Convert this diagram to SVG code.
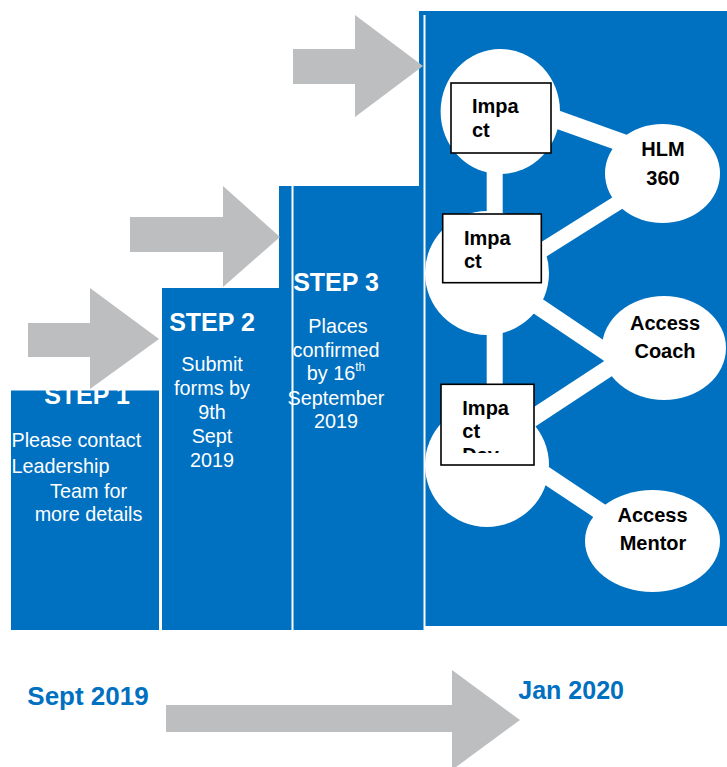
<svg xmlns="http://www.w3.org/2000/svg" width="727" height="767" viewBox="0 0 727 767">
<style>
.panel{fill:#0070C0}
.gap{fill:#FFFFFF}
.arrow{fill:#BDBEC0}
.step{font-family:"Liberation Sans",Arial,sans-serif;font-weight:bold;font-size:25px;fill:#FFFFFF;text-anchor:middle}
.body{font-family:"Liberation Sans",Arial,sans-serif;font-size:19.8px;fill:#FFFFFF}
.mid{text-anchor:middle}
.conn{stroke:#FFFFFF;stroke-linecap:butt;fill:none}
.bubble{fill:#FFFFFF}
.box{fill:#FFFFFF;stroke:#000000;stroke-width:1.6}
.lbl{font-family:"Liberation Sans",Arial,sans-serif;font-weight:bold;font-size:20px;fill:#000000}
.date{font-family:"Liberation Sans",Arial,sans-serif;font-weight:bold;fill:#0070C0}
</style>
<defs>
<clipPath id="clipStep1"><rect x="11" y="390" width="148" height="240"/></clipPath>
<clipPath id="clipBox3"><rect x="442" y="385" width="91" height="68"/></clipPath>
</defs>
<rect width="727" height="767" fill="#FFFFFF"/>

<g id="step1">
<rect class="panel" x="11" y="390.5" width="148" height="239.5"/>
<text class="step" x="87" y="404" clip-path="url(#clipStep1)">STEP 1</text>
<text class="body" x="11.5" y="446.9">Please contact</text>
<text class="body" x="11.5" y="473.1">Leadership</text>
<text class="body mid" x="88.5" y="498.3">Team for</text>
<text class="body mid" x="88.5" y="520.8">more details</text>
</g>

<g id="step2">
<rect class="panel" x="162" y="288" width="129" height="342"/>
<text class="step" x="212" y="330.7">STEP 2</text>
<text class="body mid" x="212" y="370.7">Submit</text>
<text class="body mid" x="212" y="395">forms by</text>
<text class="body mid" x="212" y="418.5">9th</text>
<text class="body mid" x="212" y="442.7">Sept</text>
<text class="body mid" x="212" y="466.7">2019</text>
</g>

<g id="step3">
<rect class="panel" x="279" y="186" width="145" height="444"/>
<rect class="gap" x="291.5" y="186" width="2" height="444"/>
<text class="step" x="336" y="290.7">STEP 3</text>
<text class="body mid" x="338" y="332.7">Places</text>
<text class="body mid" x="336" y="356.7">confirmed</text>
<text class="body mid" x="336" y="380">by 16<tspan font-size="12" dy="-9">th</tspan></text>
<text class="body mid" x="336" y="404.5">September</text>
<text class="body mid" x="336" y="428">2019</text>
</g>

<g id="panel4">
<rect class="panel" x="419" y="11" width="308" height="615"/>
<rect class="gap" x="423.5" y="15" width="2" height="615"/>
</g>

<g id="arrows">
<polygon class="arrow" points="28,323 90,323 90,288 159,339 90,389 90,357 28,357"/>
<polygon class="arrow" points="130,217 223,217 223,186 280,237 223,287 223,252 130,252"/>
<polygon class="arrow" points="293,49 355,49 355,15 423,66 355,117 355,84 293,84"/>
<polygon class="arrow" points="166,705 452,705 452,670 520,720 452,770 452,732 166,732"/>
</g>

<g id="connectors">
<line class="conn" x1="494.7" y1="111" x2="494.7" y2="465" stroke-width="16"/>
<line class="conn" x1="500" y1="99" x2="662" y2="157" stroke-width="18"/>
<line class="conn" x1="487" y1="285" x2="662" y2="175" stroke-width="15"/>
<line class="conn" x1="487" y1="272" x2="612" y2="356" stroke-width="17"/>
<line class="conn" x1="487" y1="448" x2="612" y2="366" stroke-width="17"/>
<line class="conn" x1="487" y1="436" x2="652" y2="546" stroke-width="17"/>
</g>

<g id="circle-top"><ellipse class="bubble" cx="500.3" cy="111.5" rx="59.7" ry="62.5"/></g>
<g id="circle-mid"><ellipse class="bubble" cx="487" cy="273" rx="62" ry="62"/></g>
<g id="circle-low"><ellipse class="bubble" cx="487" cy="465" rx="62" ry="62"/></g>

<g id="hlm360">
<ellipse class="bubble" cx="662.5" cy="173.5" rx="57.5" ry="49.5"/>
<text class="lbl mid" x="663" y="156">HLM</text>
<text class="lbl mid" x="663" y="185">360</text>
</g>

<g id="access-coach">
<ellipse class="bubble" cx="664" cy="348" rx="62" ry="52"/>
<text class="lbl mid" x="665" y="330">Access</text>
<text class="lbl mid" x="665" y="358.3">Coach</text>
</g>

<g id="access-mentor">
<ellipse class="bubble" cx="652.5" cy="541" rx="67.5" ry="51"/>
<text class="lbl mid" x="652.5" y="521.7">Access</text>
<text class="lbl mid" x="653" y="550">Mentor</text>
</g>

<g id="impact1">
<rect class="box" x="451" y="83" width="100" height="70"/>
<text class="lbl" x="472" y="113">Impa</text>
<text class="lbl" x="472" y="137">ct</text>
</g>

<g id="impact2">
<rect class="box" x="442.7" y="214" width="98.6" height="68.7"/>
<text class="lbl" x="464" y="245">Impa</text>
<text class="lbl" x="464" y="268">ct</text>
</g>

<g id="impact3">
<rect class="box" x="441" y="384.3" width="93" height="80.7"/>
<g clip-path="url(#clipBox3)">
<text class="lbl" x="462.3" y="415">Impa</text>
<text class="lbl" x="462.3" y="438.3">ct</text>
<text class="lbl" x="462.3" y="461.7">Day</text>
</g>
</g>

<g id="timeline">
<text class="date" x="27.3" y="705" font-size="26">Sept 2019</text>
<text class="date" x="518.3" y="699.3" font-size="25">Jan 2020</text>
</g>
</svg>
